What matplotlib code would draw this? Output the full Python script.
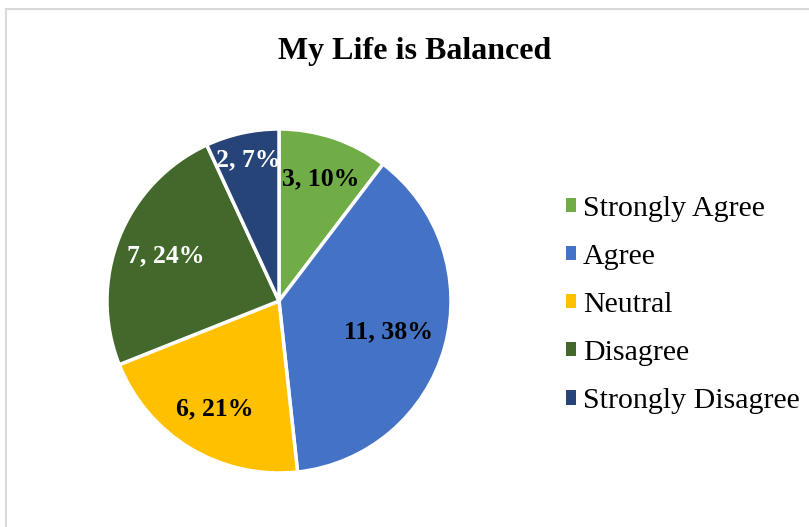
import matplotlib.pyplot as plt
from matplotlib.patches import Rectangle
import numpy as np

# survey responses
categories = ['Strongly Agree', 'Agree', 'Neutral', 'Disagree', 'Strongly Disagree']
counts = [3, 11, 6, 7, 2]
percents = [10, 38, 21, 24, 7]
colors = ['#70AD47', '#4472C4', '#FFC000', '#43682B', '#264478']
label_colors = ['black', 'black', 'black', 'white', 'white']
label_radius = [0.75, 0.66, 0.73, 0.71, 0.84]

plt.rcParams['font.family'] = ['Liberation Serif', 'DejaVu Serif']

W, H = 809, 527
fig = plt.figure(figsize=(W / 100, H / 100), dpi=100)

# light frame of the chart area (cut off at right / bottom)
fig.patches.append(Rectangle((6 / W, 0 - 0.05), 1.2, 1 - 9 / H + 0.05,
                             transform=fig.transFigure, fill=False,
                             edgecolor='#D9D9D9', linewidth=1.5))

cx, cy, r = 279, 301, 172
ax = fig.add_axes([(cx - r) / W, (H - cy - r) / H, 2 * r / W, 2 * r / H])
wedges, _ = ax.pie(counts, colors=colors, startangle=90, counterclock=False,
                   wedgeprops=dict(edgecolor='white', linewidth=2.5))
ax.set_xlim(-1, 1)
ax.set_ylim(-1, 1)
ax.set_aspect('equal')
ax.axis('off')

for w, n, p, c, rf in zip(wedges, counts, percents, label_colors, label_radius):
    ang = np.deg2rad((w.theta1 + w.theta2) / 2)
    ax.text(rf * np.cos(ang), rf * np.sin(ang), f'{n}, {p}%', ha='center',
            va='center', fontsize=18.5, fontweight='bold', color=c)

fig.text(415 / W, 1 - 51 / H, 'My Life is Balanced', ha='center', va='center',
         fontsize=23, fontweight='bold')

leg = fig.legend(wedges, categories, loc='center left',
                 bbox_to_anchor=(566 / W, 1 - 305 / H), frameon=False,
                 fontsize=21.5, handlelength=0.35, handleheight=0.35,
                 handletextpad=0.22, labelspacing=0.74, borderpad=0,
                 borderaxespad=0)
for h in leg.legend_handles:
    h.set_linewidth(0)

fig.savefig('out.png', dpi=100)
